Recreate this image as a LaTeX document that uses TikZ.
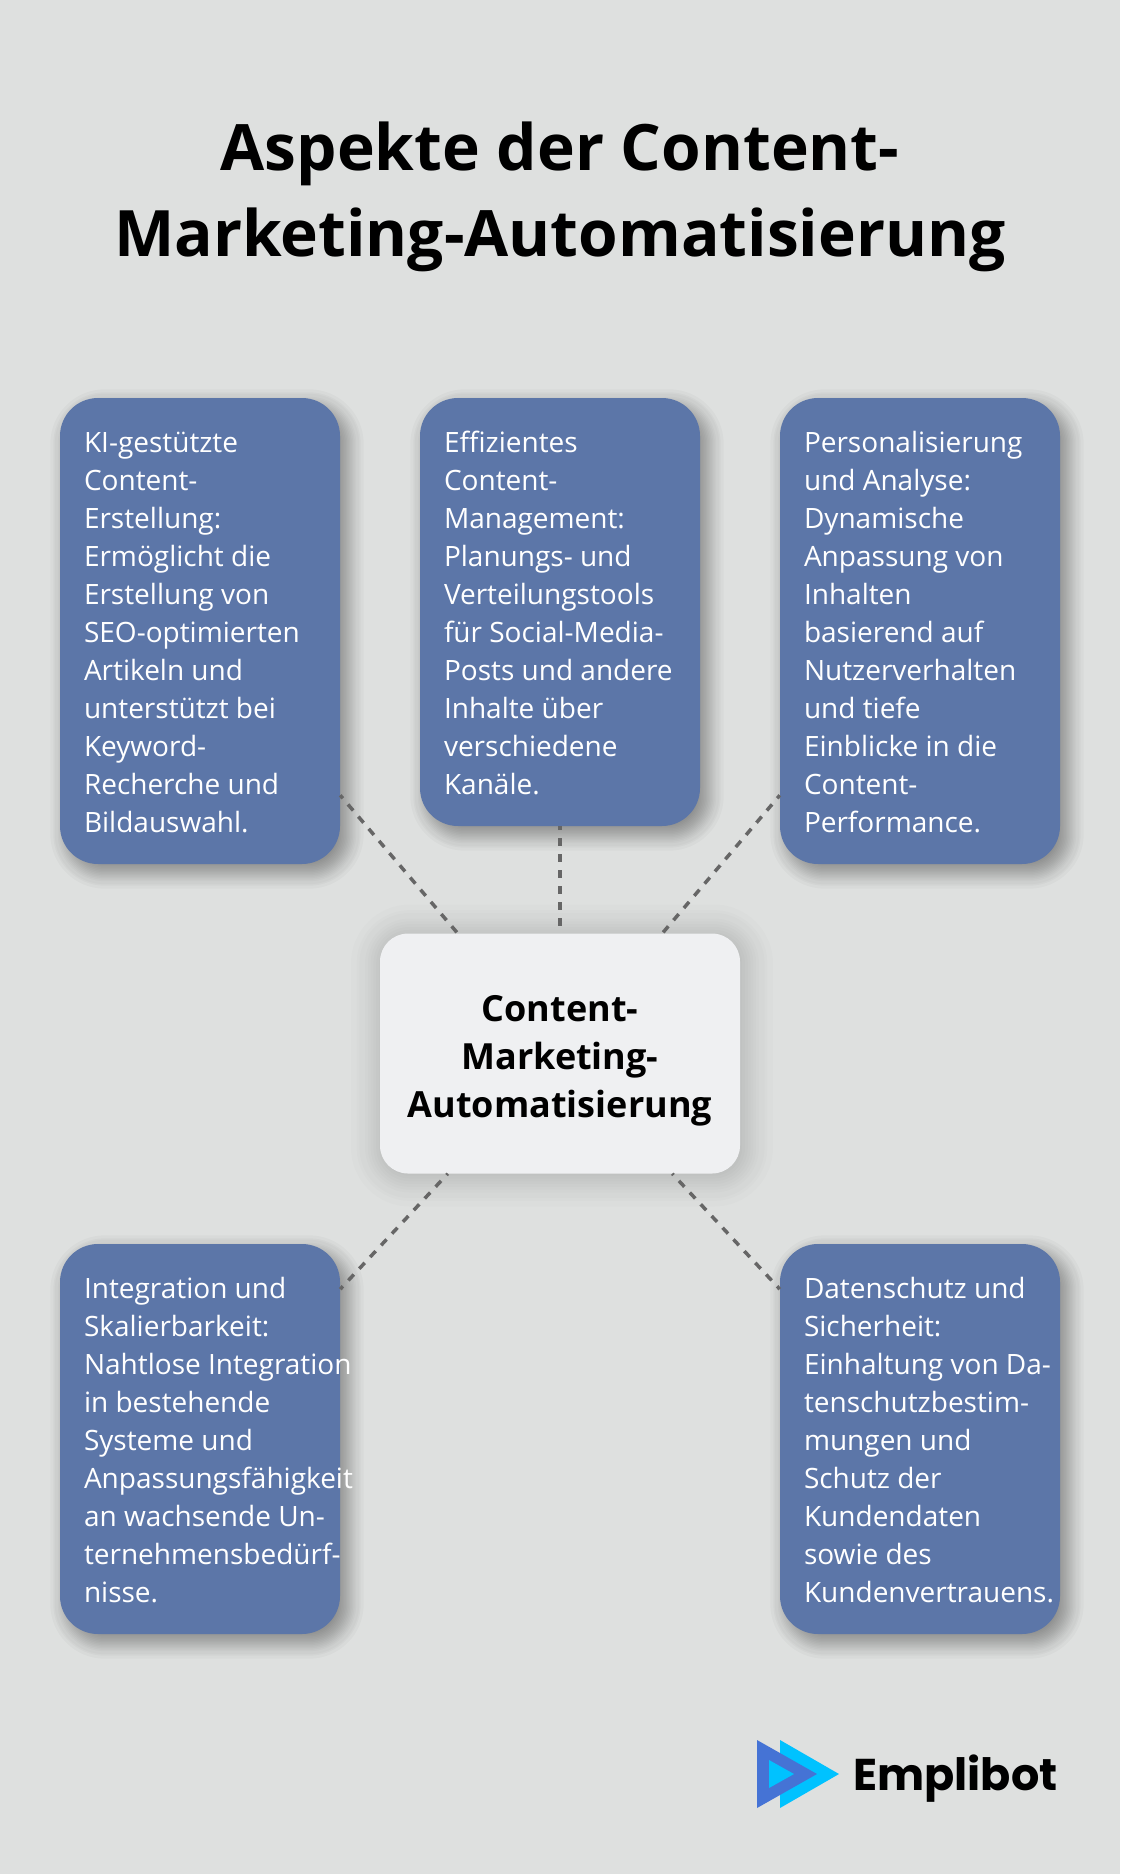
\documentclass[tikz,border=0pt]{standalone}
\usepackage{fontspec}
\setmainfont{Open Sans}
\newfontfamily\logofont{Poppins}
\usetikzlibrary{backgrounds}
\definecolor{bggray}{HTML}{DEE0DF}
\definecolor{boxblue}{HTML}{5C76A8}
\definecolor{corewhite}{HTML}{EFF0F2}
\definecolor{linkgray}{HTML}{666666}
\definecolor{logodark}{HTML}{4573D5}
\definecolor{logolight}{HTML}{00C2FF}
\hyphenpenalty=10000
\begin{document}
\begin{tikzpicture}[x=1pt, y=-1pt, line join=miter,
	infobox/.style={fill=boxblue, rounded corners=38pt, text=white, anchor=center, minimum width=280pt,
		text width=232pt, inner xsep=24pt, inner ysep=0pt, align=flush left,
		font=\fontsize{28}{38}\selectfont, execute at begin node={\rule{0pt}{23.3pt}}},
	corebox/.style={fill=corewhite, rounded corners=28pt, minimum width=360pt, minimum height=240pt, inner sep=0pt,
		text width=360pt, align=center, font=\fontsize{36}{48}\selectfont\bfseries, execute at begin node={\rule{0pt}{41pt}}},
	link/.style={draw=linkgray, line width=3.5pt, dash pattern=on 8pt off 8pt, dash phase=4pt}]
	\useasboundingbox (0,0) rectangle (1120,1874);
	\node[align=center, font=\fontsize{64}{86}\selectfont\bfseries] (title) at (560,196.5) {Aspekte der Content-\\Marketing-Automatisierung};
	% boxes
	\node[infobox, minimum height=466pt] (ki) at (200,631) {KI-gestützte\\Content-\\Erstellung:\\Ermöglicht die\\Erstellung von\\SEO-optimierten\\Artikeln und\\unterstützt bei\\Keyword-\\Recherche und\\Bildauswahl.};
	\node[infobox, minimum height=428pt] (mgmt) at (560,612) {Effizientes\\Content-\\Management:\\Planungs- und\\Verteilungstools\\für Social-Media-\\Posts und andere\\Inhalte über\\verschiedene\\Kanäle.};
	\node[infobox, minimum height=466pt] (pers) at (920,631) {Personalisierung\\und Analyse:\\Dynamische\\Anpassung von\\Inhalten\\basierend auf\\Nutzerverhalten\\und tiefe\\Einblicke in die\\Content-\\Performance.};
	\node[infobox, minimum height=390pt] (integ) at (200,1439) {Integration und\\Skalierbarkeit:\\\mbox{Nahtlose Integration}\\in bestehende\\Systeme und\\Anpassungsfähigkeit\\\mbox{an wachsende Un-}\\\mbox{ternehmensbedürf-}\\nisse.};
	\node[infobox, minimum height=390pt] (safe) at (920,1439) {Datenschutz und\\Sicherheit:\\\mbox{Einhaltung von Da-}\\tenschutzbestim-\\mungen und\\Schutz der\\Kundendaten\\sowie des\\Kundenvertrauens.};
	\node[corebox] (core) at (560,1053.5) {Content-\\Marketing-\\Automatisierung};
	% soft shadows under the boxes
	\begin{scope}[on background layer]
		\fill[bggray] (0,0) rectangle (1120,1874);
		\foreach \n/\r/\s/\dx/\dy/\o in {ki/38/1.5/7/8/0.024,mgmt/38/1.5/7/8/0.024,pers/38/1.5/7/8/0.024,integ/38/1.5/7/8/0.024,safe/38/1.5/7/8/0.024,core/28/2.8/2/2/0.013}
			\foreach \i in {-11,-9,-8,-6,-5,-4,-3,-2,-1,0,1,2,3,4,5,6,8,9,11} {
				\pgfmathsetmacro{\g}{\i*\s}
				\pgfmathsetmacro{\rr}{max(\r+\g,1)}
				\fill[black, opacity=\o, rounded corners=\rr pt]
					([xshift=\dx pt-\g pt, yshift=-\dy pt+\g pt]\n.north west) rectangle ([xshift=\dx pt+\g pt, yshift=-\dy pt-\g pt]\n.south east);
			}
	\end{scope}
	% dashed lines
	\draw[link] (ki) -- (core);
	\draw[link] (mgmt) -- (core);
	\draw[link] (pers) -- (core);
	\draw[link] (integ) -- (core);
	\draw[link] (safe) -- (core);
	% logo
	\fill[logolight] (780,1740) -- (839,1774) -- (780,1808) -- cycle;
	\fill[logodark] (757,1740) -- (817,1774) -- (757,1808) -- cycle;
	\fill[logolight] (769,1760) -- (794,1774) -- (769,1788) -- cycle;
	\node[anchor=base west, inner sep=0pt, font=\fontsize{44.5}{46}\logofont\bfseries] (brand) at (853,1790) {Emplibot};
\end{tikzpicture}
\end{document}
